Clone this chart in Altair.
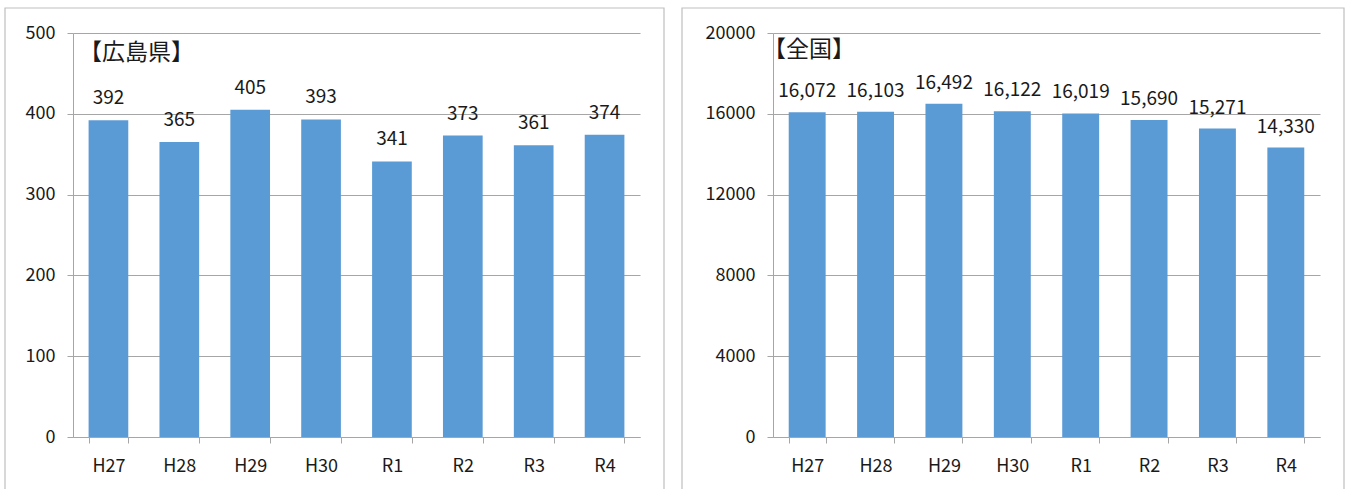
import altair as alt
import pandas as pd

years = ["H27", "H28", "H29", "H30", "R1", "R2", "R3", "R4"]
hiroshima = [392, 365, 405, 393, 341, 373, 361, 374]
national = [16072, 16103, 16492, 16122, 16019, 15690, 15271, 14330]
hiroshima_ticks = [0, 100, 200, 300, 400, 500]
national_ticks = [0, 4000, 8000, 12000, 16000, 20000]

FONT = "Noto Sans CJK JP"
BAR = "#5b9bd5"
GRID = "#a6a6a6"
BORDER = "#bfbfbf"
TXT = "#1a1a1a"


def panel(values, ticks, title, width, pad_inner, title_x, title_y, border_x, border_x2, label_dy):
    df = pd.DataFrame({"year": years, "value": values})
    base = alt.Chart(df)
    x = alt.X(
        "year:N",
        sort=years,
        scale=alt.Scale(paddingInner=pad_inner, paddingOuter=pad_inner / 2),
        axis=alt.Axis(
            title=None, labelAngle=0, tickBand="extent", tickSize=6,
            tickColor=GRID, domainColor=GRID, labelFont=FONT, labelFontSize=18,
            labelColor=TXT, labelPadding=14, grid=False,
        ),
    )
    y = alt.Y(
        "value:Q",
        scale=alt.Scale(domain=[ticks[0], ticks[-1]], nice=False, zero=True),
        axis=alt.Axis(
            title=None, values=ticks, format="d", tickSize=6, tickColor=GRID,
            domainColor=GRID, gridColor=GRID, gridWidth=1.2, grid=True,
            labelFont=FONT, labelFontSize=18, labelColor=TXT, labelPadding=12,
        ),
    )
    bars = base.mark_bar(color=BAR).encode(x=x, y=y)
    labels = base.mark_text(
        font=FONT, fontSize=19, color=TXT, baseline="middle", dy=label_dy
    ).encode(x=alt.X("year:N", sort=years), y="value:Q", text=alt.Text("value:Q", format=","))
    one = alt.Chart(pd.DataFrame({"t": [title]}))
    ttl = one.mark_text(
        font=FONT, fontSize=23, color=TXT, align="left", baseline="middle"
    ).encode(x=alt.value(title_x), y=alt.value(title_y), text="t:N")
    border = one.mark_rect(filled=False, stroke=BORDER, strokeWidth=1.2).encode(
        x=alt.value(border_x), x2=alt.value(border_x2), y=alt.value(-25), y2=alt.value(470)
    )
    return alt.layer(border, bars, labels, ttl).properties(width=width, height=404)


left = panel(hiroshima, hiroshima_ticks, "【広島県】", 567, 0.44, 6, 20, -68, 591, -22)
right = panel(national, national_ticks, "【全国】", 547, 0.46, -10, 17, -91, 571, -21)

chart = (
    alt.hconcat(left, right, spacing=133, bounds="flush")
    .resolve_scale(y="independent")
    .properties(padding={"left": 4, "top": 7, "right": 0, "bottom": 0})
    .configure_view(stroke=None)
)

chart.save("out.html", embed_options={"renderer": "svg", "actions": False})
